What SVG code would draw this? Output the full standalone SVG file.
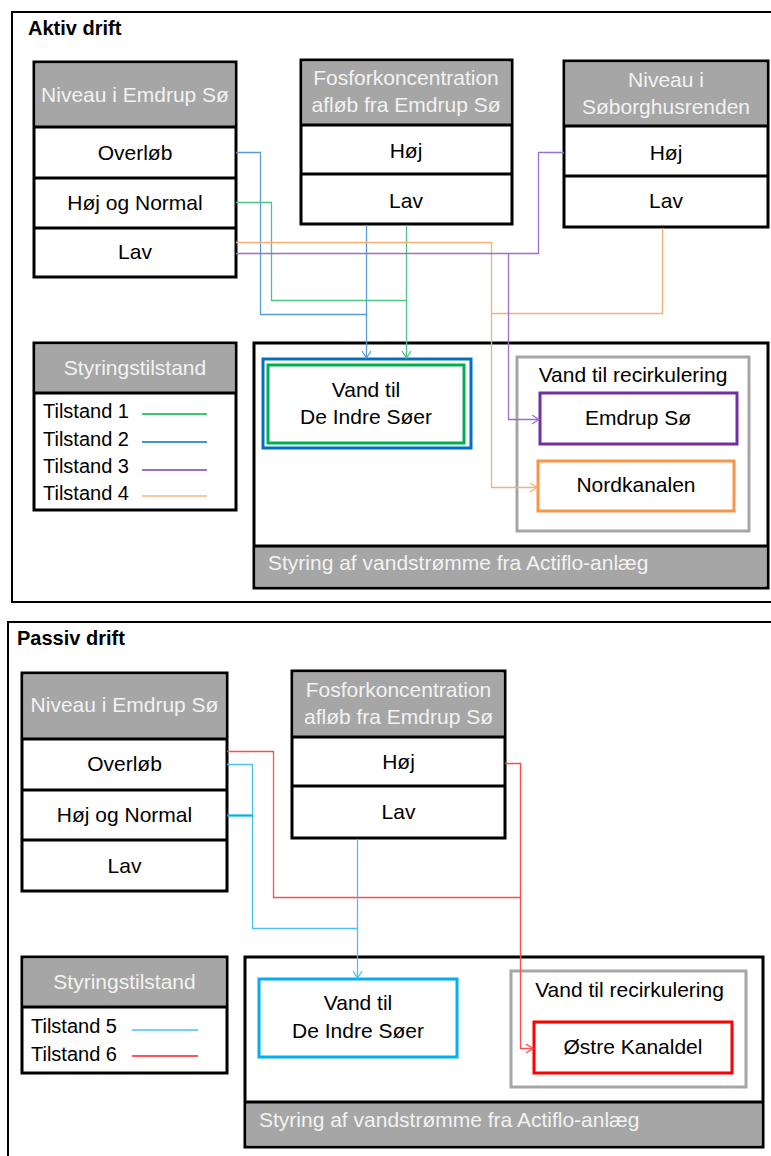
<svg xmlns="http://www.w3.org/2000/svg" width="771" height="1156" viewBox="0 0 771 1156">
<style>
text{font-family:"Liberation Sans",Arial,sans-serif;font-size:21px;fill:#000}
.t{font-weight:bold;font-size:20px}
.h{fill:#f2f2f2;text-anchor:middle}
.f{fill:#f2f2f2}
.c{text-anchor:middle}
.lg{font-size:20px}
.frame{fill:none;stroke:#000;stroke-width:2}
.box{fill:#fff;stroke:#000;stroke-width:3}
.hdr{fill:#a6a6a6}
.sep{stroke:#000;stroke-width:3}
.gbox{fill:#fff;stroke:#a6a6a6;stroke-width:3}
.cn{fill:none;stroke-width:1.3}
.g{stroke:#4cc583}
.b{stroke:#5b9bd5}
.p{stroke:#9b6fcf}
.o{stroke:#f9ae73}
.r{stroke:#ff4d4d}
.cy{stroke:#45c3f2}
</style>
<defs>
<marker id="ag" markerWidth="12" markerHeight="12" refX="8" refY="5" orient="auto" markerUnits="userSpaceOnUse"><path d="M1,0.5 L8,5 L1,9.5" fill="none" stroke="#4cc583" stroke-width="1.3"/></marker>
<marker id="ab" markerWidth="12" markerHeight="12" refX="8" refY="5" orient="auto" markerUnits="userSpaceOnUse"><path d="M1,0.5 L8,5 L1,9.5" fill="none" stroke="#5b9bd5" stroke-width="1.3"/></marker>
<marker id="ap" markerWidth="12" markerHeight="12" refX="8" refY="5" orient="auto" markerUnits="userSpaceOnUse"><path d="M1,0.5 L8,5 L1,9.5" fill="none" stroke="#9b6fcf" stroke-width="1.3"/></marker>
<marker id="ao" markerWidth="12" markerHeight="12" refX="8" refY="5" orient="auto" markerUnits="userSpaceOnUse"><path d="M1,0.5 L8,5 L1,9.5" fill="none" stroke="#f9ae73" stroke-width="1.3"/></marker>
<marker id="ar" markerWidth="12" markerHeight="12" refX="8" refY="5" orient="auto" markerUnits="userSpaceOnUse"><path d="M1,0.5 L8,5 L1,9.5" fill="none" stroke="#ff4d4d" stroke-width="1.3"/></marker>
<marker id="acy" markerWidth="12" markerHeight="12" refX="8" refY="5" orient="auto" markerUnits="userSpaceOnUse"><path d="M1,0.5 L8,5 L1,9.5" fill="none" stroke="#45c3f2" stroke-width="1.3"/></marker>
</defs>
<rect width="771" height="1156" fill="#fff"/>

<!-- ===== AKTIV DRIFT ===== -->
<g id="aktiv-frame">
<rect class="frame" x="12" y="12" width="775" height="590"/>
<text class="t" x="28" y="35">Aktiv drift</text>
</g>

<g id="a-niveau-emdrup">
<rect class="box" x="34" y="62" width="202" height="215"/>
<rect class="hdr" x="35.5" y="63.5" width="199" height="63.5"/>
<line class="sep" x1="34" y1="127" x2="236" y2="127"/>
<line class="sep" x1="34" y1="178" x2="236" y2="178"/>
<line class="sep" x1="34" y1="228" x2="236" y2="228"/>
<text class="h" x="135" y="102">Niveau i Emdrup Sø</text>
<text class="c" x="135" y="160">Overløb</text>
<text class="c" x="135" y="210">Høj og Normal</text>
<text class="c" x="135" y="259">Lav</text>
</g>

<g id="a-fosfor">
<rect class="box" x="301" y="60" width="211" height="164"/>
<rect class="hdr" x="302.5" y="61.5" width="208" height="63.5"/>
<line class="sep" x1="301" y1="125" x2="512" y2="125"/>
<line class="sep" x1="301" y1="174" x2="512" y2="174"/>
<text class="h" x="406" y="85">Fosforkoncentration</text>
<text class="h" x="406" y="112">afløb fra Emdrup Sø</text>
<text class="c" x="406" y="158">Høj</text>
<text class="c" x="406" y="208">Lav</text>
</g>

<g id="a-soborg">
<rect class="box" x="564" y="61" width="204" height="166"/>
<rect class="hdr" x="565.5" y="62.5" width="201" height="63.5"/>
<line class="sep" x1="564" y1="126" x2="768" y2="126"/>
<line class="sep" x1="564" y1="176" x2="768" y2="176"/>
<text class="h" x="666" y="87">Niveau i</text>
<text class="h" x="666" y="114">Søborghusrenden</text>
<text class="c" x="666" y="160">Høj</text>
<text class="c" x="666" y="208">Lav</text>
</g>

<g id="a-legend">
<rect class="box" x="34" y="343" width="202" height="167"/>
<rect class="hdr" x="35.5" y="344.5" width="199" height="48.5"/>
<line class="sep" x1="34" y1="393" x2="236" y2="393"/>
<text class="h" x="135" y="375">Styringstilstand</text>
<text class="lg" x="43" y="418">Tilstand 1</text>
<text class="lg" x="43" y="446">Tilstand 2</text>
<text class="lg" x="43" y="473">Tilstand 3</text>
<text class="lg" x="43" y="500">Tilstand 4</text>
<line x1="142" y1="414" x2="207" y2="414" stroke="#00b050" stroke-width="1.5"/>
<line x1="142" y1="442" x2="207" y2="442" stroke="#0070c0" stroke-width="1.5"/>
<line x1="142" y1="470" x2="207" y2="470" stroke="#9b6fcf" stroke-width="2"/>
<line x1="142" y1="496" x2="207" y2="496" stroke="#fab47c" stroke-width="1.5"/>
</g>

<g id="a-styring">
<rect class="box" x="254" y="343" width="514" height="245"/>
<rect class="hdr" x="255.5" y="546" width="511" height="40.5"/>
<line class="sep" x1="254" y1="546" x2="768" y2="546"/>
<text class="f" x="268" y="570">Styring af vandstrømme fra Actiflo-anlæg</text>
</g>

<g id="a-vand-indre">
<rect x="263" y="359" width="208" height="89" fill="#fff" stroke="#0070c0" stroke-width="3"/>
<rect x="268" y="365" width="196" height="78" fill="#fff" stroke="#00b050" stroke-width="3"/>
<text class="c" x="366" y="397">Vand til</text>
<text class="c" x="366" y="424">De Indre Søer</text>
</g>

<g id="a-recirk">
<rect class="gbox" x="517" y="357" width="232" height="174"/>
<text class="c" x="633" y="382">Vand til recirkulering</text>
</g>

<g id="a-emdrup">
<rect x="540" y="393" width="197" height="51" fill="#fff" stroke="#7030a0" stroke-width="3"/>
<text class="c" x="638" y="425">Emdrup Sø</text>
</g>

<g id="a-nordkanalen">
<rect x="538" y="461" width="196" height="50" fill="#fff" stroke="#f79646" stroke-width="3"/>
<text class="c" x="636" y="492">Nordkanalen</text>
</g>

<g id="a-connectors">
<path class="cn b" d="M236,152.5 H260.5 V314.5 H366.5"/>
<path class="cn b" d="M366.5,225 V358" marker-end="url(#ab)"/>
<path class="cn g" d="M236,202.5 H271.5 V300.5 H406.5"/>
<path class="cn g" d="M406.5,225 V358" marker-end="url(#ag)"/>
<path class="cn o" d="M236,242.5 H491.5 V487.5 H537" marker-end="url(#ao)"/>
<path class="cn o" d="M662.5,228 V313.5 H491.5"/>
<path class="cn p" d="M236,253.5 H538.5 V152.5 H564"/>
<path class="cn p" d="M508.5,253.5 V419.5 H539" marker-end="url(#ap)"/>
</g>

<!-- ===== PASSIV DRIFT ===== -->
<g id="passiv-frame">
<rect class="frame" x="8" y="622" width="780" height="560"/>
<text class="t" x="17" y="645">Passiv drift</text>
</g>

<g id="p-niveau-emdrup">
<rect class="box" x="22" y="673" width="205" height="218"/>
<rect class="hdr" x="23.5" y="674.5" width="202" height="64.5"/>
<line class="sep" x1="22" y1="739" x2="227" y2="739"/>
<line class="sep" x1="22" y1="790" x2="227" y2="790"/>
<line class="sep" x1="22" y1="840" x2="227" y2="840"/>
<text class="h" x="124.5" y="712">Niveau i Emdrup Sø</text>
<text class="c" x="124.5" y="771">Overløb</text>
<text class="c" x="124.5" y="822">Høj og Normal</text>
<text class="c" x="124.5" y="873">Lav</text>
</g>

<g id="p-fosfor">
<rect class="box" x="292" y="671" width="213" height="167"/>
<rect class="hdr" x="293.5" y="672.5" width="210" height="64.5"/>
<line class="sep" x1="292" y1="737" x2="505" y2="737"/>
<line class="sep" x1="292" y1="786" x2="505" y2="786"/>
<text class="h" x="398.5" y="697">Fosforkoncentration</text>
<text class="h" x="398.5" y="724">afløb fra Emdrup Sø</text>
<text class="c" x="398.5" y="769">Høj</text>
<text class="c" x="398.5" y="819">Lav</text>
</g>

<g id="p-legend">
<rect class="box" x="22" y="957" width="205" height="116"/>
<rect class="hdr" x="23.5" y="958.5" width="202" height="48.5"/>
<line class="sep" x1="22" y1="1007" x2="227" y2="1007"/>
<text class="h" x="124.5" y="989">Styringstilstand</text>
<text class="lg" x="31" y="1033">Tilstand 5</text>
<text class="lg" x="31" y="1061">Tilstand 6</text>
<line x1="132" y1="1030" x2="198" y2="1030" stroke="#45c3f2" stroke-width="1.5"/>
<line x1="132" y1="1056" x2="198" y2="1056" stroke="#ff2020" stroke-width="1.5"/>
</g>

<g id="p-styring">
<rect class="box" x="245" y="957" width="518" height="190"/>
<rect class="hdr" x="246.5" y="1102" width="515" height="43.5"/>
<line class="sep" x1="245" y1="1102" x2="763" y2="1102"/>
<text class="f" x="259" y="1127">Styring af vandstrømme fra Actiflo-anlæg</text>
</g>

<g id="p-vand-indre">
<rect x="259" y="979" width="198" height="78" fill="#fff" stroke="#00b0f0" stroke-width="3"/>
<text class="c" x="358" y="1010">Vand til</text>
<text class="c" x="358" y="1038">De Indre Søer</text>
</g>

<g id="p-recirk">
<rect class="gbox" x="511" y="971" width="235" height="116"/>
<text class="c" x="629.5" y="997">Vand til recirkulering</text>
</g>

<g id="p-ostre">
<rect x="534" y="1022" width="198" height="51" fill="#fff" stroke="#ff0000" stroke-width="3"/>
<text class="c" x="633" y="1054">Østre Kanaldel</text>
</g>

<g id="p-connectors">
<path class="cn r" d="M227,751.5 H273.5 V897.5 H520.5"/>
<path class="cn r" d="M505,763.5 H520.5 V1048.5 H533" marker-end="url(#ar)"/>
<path class="cn cy" d="M227,764.5 H252.5 V928.5 H357.5"/>
<path d="M227,815.5 H252.5" fill="none" stroke="#00b0f0" stroke-width="2.2"/>
<path class="cn cy" d="M357.5,839 V978" marker-end="url(#acy)"/>
</g>
</svg>
